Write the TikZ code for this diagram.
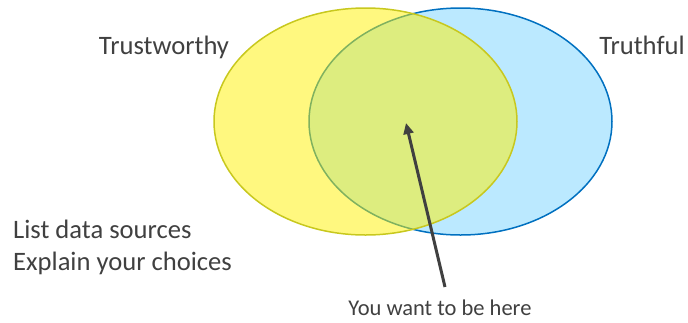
\documentclass[tikz,border=0pt]{standalone}
\usepackage{fontspec}
\setmainfont{Carlito}
\usetikzlibrary{arrows.meta}

\definecolor{textgrey}{HTML}{404040}
\definecolor{skyfill}{HTML}{BBE9FF}
\definecolor{skyline}{HTML}{0070C0}
\definecolor{lemonline}{HTML}{C8C81E}

\tikzset{
  label text/.style={text=textgrey, font=\fontsize{26.6}{32}\selectfont, inner sep=0pt},
  small text/.style={text=textgrey, font=\fontsize{22.5}{27}\selectfont, inner sep=0pt},
  pointer/.style={draw=textgrey, line width=3pt, -{Triangle[length=11pt,width=10pt]}},
}

\begin{document}
\begin{tikzpicture}[x=1pt,y=-1pt]
\useasboundingbox (0,0) rectangle (688,322);
% the two sets
\draw [skyline, fill=skyfill, line width=1.5pt] (460.5,121.5) ellipse (151.5 and 113.5);
\draw [lemonline, fill=yellow, fill opacity=0.5, line width=1.5pt] (365.5,121.5) ellipse (151.5 and 113.5);
% labels
\node [label text, anchor=base] (trust) at (164,54) {Trustworthy};
\node [label text, anchor=base] (truth) at (642,54) {Truthful};
\node [label text, anchor=base west] (list) at (13,238) {List data sources};
\node [label text, anchor=base west] (explain) at (13,270) {Explain your choices};
\node [small text, anchor=base] (here) at (440,315) {You want to be here};
% the arrow
\coordinate (tail) at (445,287);
\coordinate (spot) at (406,123);
\draw [pointer] (tail) -- (spot);
\end{tikzpicture}
\end{document}
